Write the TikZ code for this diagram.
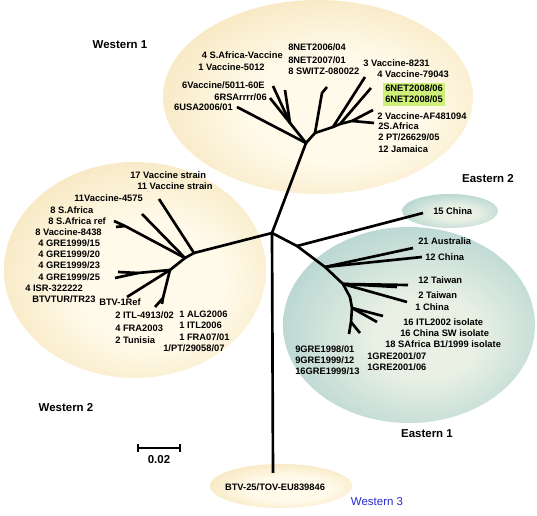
\documentclass[tikz,border=0pt]{standalone}
\usepackage{fontspec}
\setmainfont{Liberation Sans}
\definecolor{wedge}{RGB}{238,208,140}
\definecolor{wcenter}{RGB}{255,250,234}
\definecolor{eedge}{RGB}{128,184,190}
\definecolor{ecenter}{RGB}{234,241,228}
\definecolor{hl}{RGB}{206,240,120}
\definecolor{w3blue}{RGB}{40,40,210}
\pgfdeclareradialshading{wsh}{\pgfpoint{4bp}{-4bp}}{color(0bp)=(wcenter); color(14bp)=(wcenter); color(50bp)=(wedge); color(56bp)=(wedge)}
\pgfdeclareradialshading{esh}{\pgfpoint{4bp}{-4bp}}{color(0bp)=(ecenter); color(10bp)=(ecenter); color(50bp)=(eedge); color(56bp)=(eedge)}
\tikzset{
  br/.style={line width=2pt, line join=round, black},
  lbl/.style={inner sep=0pt, anchor=west, font=\fontsize{7}{8}\selectfont\bfseries},
  sect/.style={inner sep=0pt, font=\fontsize{8.6}{10}\selectfont\bfseries},
  wblob/.style={shading=wsh},
  eblob/.style={shading=esh}
}
\begin{document}
\begin{tikzpicture}[x=0.75pt,y=-0.75pt]
\useasboundingbox (0,0) rectangle (537,516);
% clusters
\shade[wblob] (318,97) ellipse [x radius=155, y radius=97];
\shade[wblob] (135,270) ellipse [x radius=131, y radius=108];
\shade[eblob] (450,211) ellipse [x radius=48, y radius=17];
\shade[eblob] (409,325) ellipse [x radius=126, y radius=98];
\shade[wblob] (281,486) ellipse [x radius=71, y radius=22];
% tree coordinates
\coordinate (R) at (272,233);
\coordinate (W3) at (273,473);
\coordinate (W1a) at (306,143);
\coordinate (W1c) at (290,123);
\coordinate (W1d) at (315,133);
\coordinate (W1k) at (322,93);
\coordinate (W1e) at (333,127);
\coordinate (W1f) at (340,124);
\coordinate (W1g) at (352,121);
\coordinate (t1) at (237,107);
\coordinate (t2) at (273,86);
\coordinate (t3) at (285,90);
\coordinate (t4) at (270,98);
\coordinate (t5) at (327,87);
\coordinate (t6) at (365,77);
\coordinate (t7) at (371,88);
\coordinate (t8) at (373,110);
\coordinate (t9) at (374,123);
\coordinate (A) at (194,253);
\coordinate (B) at (185,258);
\coordinate (C) at (170,270);
\coordinate (D) at (138,273);
\coordinate (Bk) at (125,226);
\coordinate (Ck) at (163,298);
\coordinate (u1) at (159,199);
\coordinate (u2) at (142,214);
\coordinate (u3) at (114,221);
\coordinate (u4) at (116,227);
\coordinate (u5) at (115,278);
\coordinate (u6) at (118,272);
\coordinate (u7) at (127,297);
\coordinate (u8) at (162,304);
\coordinate (u9) at (155,307);
\coordinate (E1) at (297,246);
\coordinate (E3) at (325,267);
\coordinate (E4) at (343,284);
\coordinate (E5) at (350,297);
\coordinate (E6) at (352,308);
\coordinate (E7) at (351,322);
\coordinate (v1) at (423,213);
\coordinate (v2) at (413,248);
\coordinate (v3) at (422,257);
\coordinate (v4) at (408,285);
\coordinate (v5) at (397,287);
\coordinate (v6) at (407,302);
\coordinate (v7) at (383,316);
\coordinate (v8) at (377,322);
\coordinate (v9) at (349,334);
\coordinate (v10) at (360,333);
% branches
\draw[br] (R) -- (W3);
\draw[br] (R) -- (W1a) -- (t1);
\draw[br] (W1a) -- (W1c) -- (t2);
\draw[br] (W1c) -- (t3);
\draw[br] (W1c) -- (t4);
\draw[br] (W1a) -- (W1d) -- (W1k) -- (t5);
\draw[br] (W1d) -- (W1e) -- (t6);
\draw[br] (W1e) -- (W1f) -- (t7);
\draw[br] (W1f) -- (W1g) -- (t8);
\draw[br] (W1g) -- (t9);
\draw[br] (R) -- (A) -- (u1);
\draw[br] (A) -- (B) -- (u2);
\draw[br] (B) -- (Bk) -- (u3);
\draw[br] (Bk) -- (u4);
\draw[br] (B) -- (C) -- (D) -- (u5);
\draw[br] (D) -- (u6);
\draw[br] (C) -- (u7);
\draw[br] (C) -- (Ck) -- (u8);
\draw[br] (Ck) -- (u9);
\draw[br] (R) -- (E1) -- (v1);
\draw[br] (E1) -- (E3) -- (v2);
\draw[br] (E3) -- (v3);
\draw[br] (E3) -- (E4) -- (v4);
\draw[br] (E4) -- (v5);
\draw[br] (E4) -- (v6);
\draw[br] (E4) -- (E5) -- (E6) -- (v7);
\draw[br] (E6) -- (v8);
\draw[br] (E6) -- (E7) -- (v9);
\draw[br] (E7) -- (v10);
% scale bar
\coordinate (s1) at (138,448);
\coordinate (s2) at (180,448);
\draw[line width=1.5pt] (s1) -- (s2);
\draw[line width=1.5pt] ([yshift=3]s1) -- ([yshift=-3]s1);
\draw[line width=1.5pt] ([yshift=3]s2) -- ([yshift=-3]s2);
\node[sect] (scl) at (159,460) {0.02};
% section labels
\node[sect] (lw1) at (120,45) {Western 1};
\node[sect] (lw2) at (66,408) {Western 2};
\node[sect] (le2) at (488,179) {Eastern 2};
\node[sect] (le1) at (427,434) {Eastern 1};
\node[sect, font=\fontsize{8.6}{10}\selectfont, text=w3blue] (lw3) at (377,502) {Western 3};
% Western 1 labels
\node[lbl] (a1) at (288,47) {8NET2006/04};
\node[lbl] (a2) at (288,60) {8NET2007/01};
\node[lbl] (a3) at (288,71) {8 SWITZ-080022};
\node[lbl, anchor=east] (a4) at (283,55) {4 S.Africa-Vaccine};
\node[lbl] (a5) at (198,67) {1 Vaccine-5012};
\node[lbl, anchor=east] (a6) at (265,85) {6Vaccine/5011-60E};
\node[lbl, anchor=east] (a7) at (267,97) {6RSArrrr/06};
\node[lbl, anchor=east] (a8) at (233,107) {6USA2006/01};
\node[lbl] (a9) at (363,63) {3 Vaccine-8231};
\node[lbl] (a10) at (377,74) {4 Vaccine-79043};
\node[lbl, fill=hl, inner xsep=1.5pt, inner ysep=0.6pt, text height=5.2pt, text depth=1.9pt] (a11) at (383,89) {6NET2008/06};
\node[lbl, fill=hl, inner xsep=1.5pt, inner ysep=0.6pt, text height=5.2pt, text depth=1.9pt] (a12) at (383,100) {6NET2008/05};
\node[lbl] (a13) at (377,116) {2 Vaccine-AF481094};
\node[lbl] (a14) at (378,126) {2S.Africa};
\node[lbl] (a15) at (378,137) {2 PT/26629/05};
\node[lbl] (a16) at (378,149) {12 Jamaica};
% Western 2 labels
\node[lbl] (b1) at (130,175) {17 Vaccine strain};
\node[lbl] (b2) at (137,186) {11 Vaccine strain};
\node[lbl] (b3) at (74,198) {11Vaccine-4575};
\node[lbl] (b4) at (50,210) {8 S.Africa};
\node[lbl] (b5) at (48,221) {8 S.Africa ref};
\node[lbl] (b6) at (35,232) {8 Vaccine-8438};
\node[lbl] (b7) at (38,243) {4 GRE1999/15};
\node[lbl] (b8) at (38,254) {4 GRE1999/20};
\node[lbl] (b9) at (38,265) {4 GRE1999/23};
\node[lbl] (b10) at (38,277) {4 GRE1999/25};
\node[lbl] (b11) at (25,288) {4 ISR-322222};
\node[lbl] (b12) at (32,299) {BTVTUR/TR23};
\node[lbl] (b13) at (99,302) {BTV-1Ref};
\node[lbl] (b14) at (115,315) {2 ITL-4913/02};
\node[lbl] (b15) at (115,328) {4 FRA2003};
\node[lbl] (b16) at (115,340) {2 Tunisia};
\node[lbl] (b17) at (179,314) {1 ALG2006};
\node[lbl] (b18) at (179,325) {1 ITL2006};
\node[lbl] (b19) at (179,337) {1 FRA07/01};
\node[lbl] (b20) at (163,348) {1/PT/29058/07};
% Eastern labels
\node[lbl] (c1) at (433,211) {15 China};
\node[lbl] (c2) at (418,241) {21 Australia};
\node[lbl] (c3) at (425,257) {12 China};
\node[lbl] (c4) at (418,280) {12 Taiwan};
\node[lbl] (c5) at (418,295) {2 Taiwan};
\node[lbl] (c6) at (415,307) {1 China};
\node[lbl] (c7) at (403,322) {16 ITL2002 isolate};
\node[lbl] (c8) at (400,333) {16 China SW isolate};
\node[lbl] (c9) at (385,344) {18 SAfrica B1/1999 isolate};
\node[lbl] (c10) at (367,356) {1GRE2001/07};
\node[lbl] (c11) at (367,367) {1GRE2001/06};
\node[lbl] (c12) at (295,349) {9GRE1998/01};
\node[lbl] (c13) at (295,360) {9GRE1999/12};
\node[lbl] (c14) at (295,371) {16GRE1999/13};
% Western 3
\node[sect, font=\fontsize{7}{8}\selectfont\bfseries] (d1) at (275,487) {BTV-25/TOV-EU839846};
\end{tikzpicture}
\end{document}
